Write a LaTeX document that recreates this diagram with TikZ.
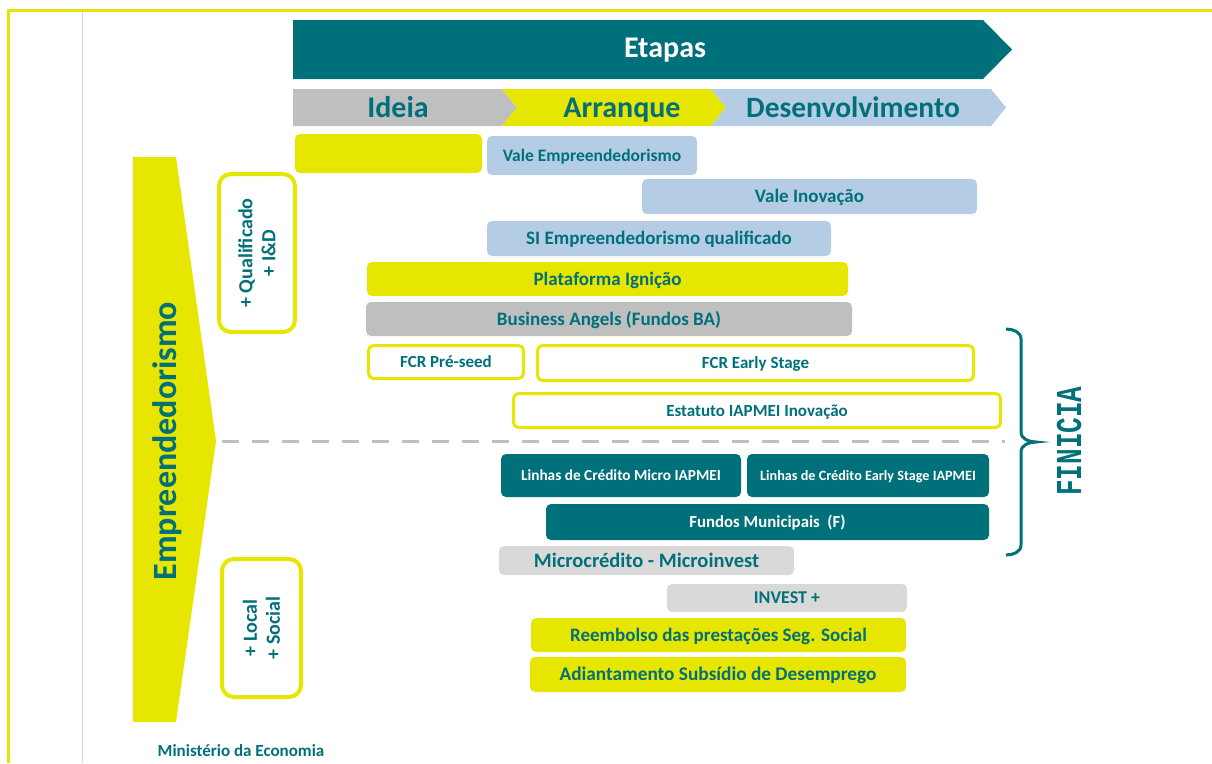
\documentclass[tikz,border=0pt]{standalone}
\usepackage{fontspec}
\setmainfont{Carlito}
\newfontfamily\courierfont{Liberation Mono}
\definecolor{mecteal}{RGB}{0,112,122}
\definecolor{mecyellow}{RGB}{230,230,0}
\definecolor{mecblue}{RGB}{180,205,228}
\definecolor{mecgrey}{RGB}{191,191,191}
\definecolor{meclight}{RGB}{217,217,217}
\definecolor{mecline}{RGB}{205,215,232}
\tikzstyle{bar}=[rounded corners=5pt, inner sep=0pt, outer sep=0pt, text=mecteal, text height=12.3pt, text depth=0pt, font=\bfseries\fontsize{19}{21}\selectfont]
\tikzstyle{bluebar}=[bar, fill=mecblue]
\tikzstyle{yellowbar}=[bar, fill=mecyellow]
\tikzstyle{greybar}=[bar, fill=mecgrey]
\tikzstyle{lightbar}=[bar, fill=meclight]
\tikzstyle{tealbar}=[bar, fill=mecteal, text=white, text height=10pt, font=\bfseries\fontsize{15.3}{17}\selectfont]
\tikzstyle{openbar}=[bar, draw=mecyellow, line width=3pt, fill=white, text height=11pt, font=\bfseries\fontsize{17}{19}\selectfont]
\tikzstyle{sidebox}=[rounded corners=12pt, draw=mecyellow, line width=4pt, inner sep=0pt, rotate=90, align=center, text=mecteal, font=\bfseries\fontsize{20}{23}\selectfont]
\tikzstyle{stage}=[text=mecteal, text height=19.5pt, text depth=0pt, inner sep=0pt, font=\bfseries\fontsize{30}{32}\selectfont]
\begin{document}
\begin{tikzpicture}[x=1pt, y=-1pt]
\useasboundingbox (0,0) rectangle (1212,763);
% frame
\draw[mecyellow, line width=3pt] (7,10.5) -- (1212,10.5);
\draw[mecyellow, line width=3pt] (8,9) -- (8,763);
\draw[mecline, line width=1pt] (82.5,12) -- (82.5,763);
% etapas
\fill[mecteal] (293,20) -- (983,20) -- (1012,49.5) -- (983,79) -- (293,79) -- cycle;
\node[stage, text=white] (etapas) at (665,48) {Etapas};
\fill[mecgrey] (293,89) -- (502,89) -- (517,107.5) -- (502,126) -- (293,126) -- cycle;
\fill[mecyellow] (502,89) -- (711,89) -- (726,107.5) -- (711,126) -- (502,126) -- (517,107.5) -- cycle;
\fill[mecblue] (711,89) -- (991,89) -- (1006,107.5) -- (991,126) -- (711,126) -- (726,107.5) -- cycle;
\node[stage] (ideia) at (398,107.5) {Ideia};
\node[stage] (arranque) at (622,107.5) {Arranque};
\node[stage, font=\bfseries\fontsize{29.5}{32}\selectfont] (desenv) at (853,107.5) {Desenvolvimento};
% empreendedorismo
\fill[mecyellow] (133,157) -- (176,157) -- (216,441) -- (176,722) -- (133,722) -- cycle;
\node[rotate=90, text=mecteal, font=\bfseries\fontsize{34}{36}\selectfont] (empreend) at (167,441) {Empreendedorismo};
\node[sidebox, minimum width=158, minimum height=76] (qualif) at (257,253) {+ Qualificado\\+ I\&D};
\node[sidebox, minimum width=138, minimum height=79] (local) at (261.5,628) {+ Local\\+ Social};
% instrumentos
\node[yellowbar, minimum width=187, minimum height=39] (ideiabox) at (388.5,153.5) {};
\node[bluebar, minimum width=210, minimum height=39, text height=11.4pt, font=\bfseries\fontsize{17.5}{19}\selectfont] (valeemp) at (592,155.5) {Vale Empreendedorismo};
\node[bluebar, minimum width=335, minimum height=35] (valeinov) at (809.5,196.5) {Vale Inovação};
\node[bluebar, minimum width=344, minimum height=35] (siemp) at (659,238.5) {SI Empreendedorismo qualificado};
\node[yellowbar, minimum width=481, minimum height=34] (ignicao) at (607.5,279) {Plataforma Ignição};
\node[greybar, minimum width=486, minimum height=34] (angels) at (609,319) {Business Angels (Fundos BA)};
\node[openbar, minimum width=155, minimum height=33] (preseed) at (446,362) {FCR Pré-seed};
\node[openbar, minimum width=436, minimum height=35] (early) at (755.5,363) {FCR Early Stage};
\node[openbar, minimum width=487, minimum height=34] (estatuto) at (757,410.5) {Estatuto IAPMEI Inovação};
\coordinate (dashL) at (222,441);
\coordinate (dashR) at (1005,441);
\draw[mecgrey, line width=3pt, dash pattern=on 17pt off 13pt] (dashL) -- (dashR);
\node[tealbar, minimum width=240, minimum height=43] (linmicro) at (621,475.5) {Linhas de Crédito Micro IAPMEI};
\node[tealbar, minimum width=242, minimum height=43, text height=9.2pt, font=\bfseries\fontsize{14.2}{16}\selectfont] (linearly) at (868,475.5) {Linhas de Crédito Early Stage IAPMEI};
\node[tealbar, minimum width=443, minimum height=36, text height=10.9pt, font=\bfseries\fontsize{16.8}{18}\selectfont] (municipais) at (767.5,522) {Fundos Municipais\ \ (F)};
\node[lightbar, minimum width=295, minimum height=29, text height=13.2pt, font=\bfseries\fontsize{20.5}{22}\selectfont] (microcred) at (646.5,560.5) {Microcrédito - Microinvest};
\node[lightbar, minimum width=240, minimum height=28, text height=11.6pt, font=\bfseries\fontsize{18}{20}\selectfont] (invest) at (787,598) {INVEST +};
\node[yellowbar, minimum width=375, minimum height=34] (reembolso) at (718.5,635) {Reembolso das prestações Seg. Social};
\node[yellowbar, minimum width=376, minimum height=35, text height=12.5pt, font=\bfseries\fontsize{19.3}{21}\selectfont] (subsidio) at (718,674.5) {Adiantamento Subsídio de Desemprego};
% finicia
\draw[mecteal, line width=3pt] (1006,329) to[out=0, in=90] (1021,339) -- (1021,432) to[out=-90, in=180] (1036,442) to[out=180, in=90] (1021,452) -- (1021,545) to[out=-90, in=0] (1006,555);
\node[rotate=90, text=mecteal, font=\courierfont\bfseries\fontsize{26}{28}\selectfont] (finicia) at (1069,441) {\scalebox{1}[1.4]{FINICIA}};
\node[text=mecteal, font=\bfseries\fontsize{17}{19}\selectfont] (ministerio) at (241,751) {Ministério da Economia};
\end{tikzpicture}
\end{document}
